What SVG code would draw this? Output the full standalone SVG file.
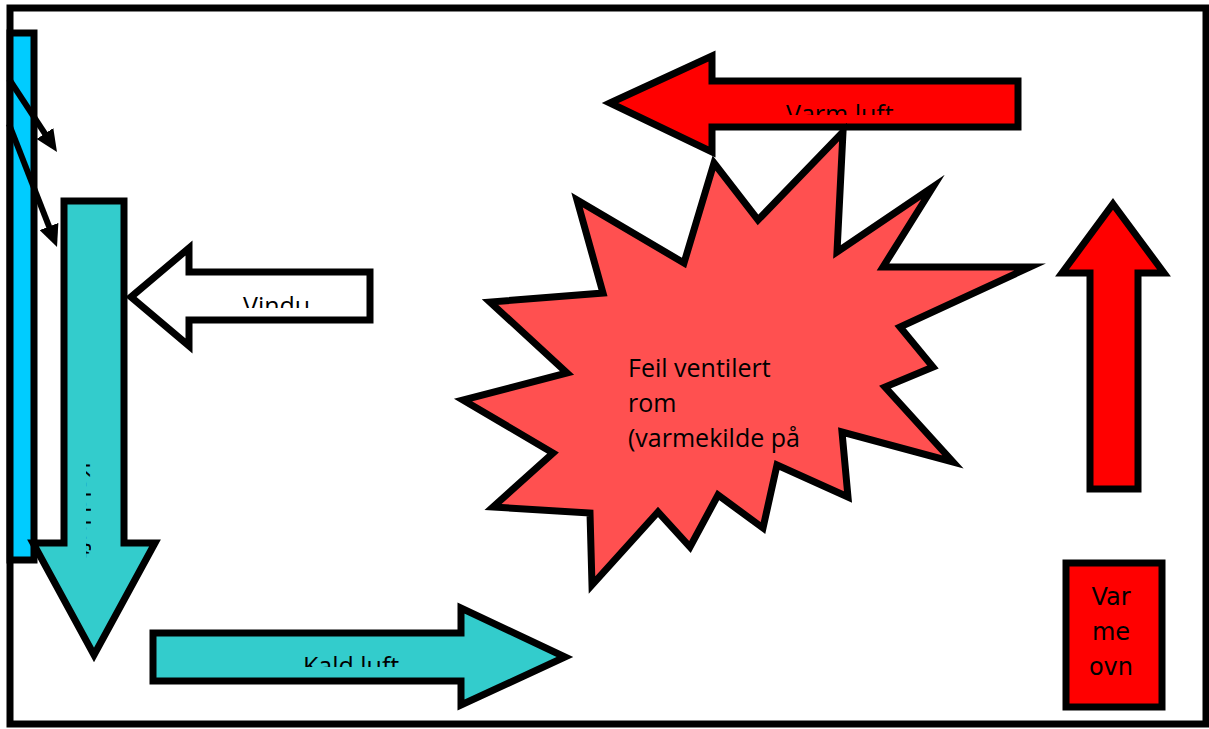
<svg xmlns="http://www.w3.org/2000/svg" width="1209" height="729" viewBox="0 0 1209 729">
<style>
.sh{stroke:#000;stroke-width:7;stroke-linejoin:miter;stroke-miterlimit:10}
.t{font-family:"Open Sans","Liberation Sans",sans-serif;font-size:25px;fill:#000}
.tv{font-family:"DejaVu Sans","Liberation Sans",sans-serif;font-size:24px;fill:#000}
.cn{stroke:#000;stroke-width:6;fill:none}
</style>
<defs>
<marker id="ah" viewBox="0 0 22 20" refX="12" refY="10" markerWidth="22" markerHeight="20" markerUnits="userSpaceOnUse" orient="auto">
<path d="M0,0 L22,10 L0,20 z" fill="#000"/>
</marker>
<clipPath id="cVindu"><rect x="200" y="280" width="170" height="28"/></clipPath>
<clipPath id="cKald"><rect x="160" y="640" width="300" height="27"/></clipPath>
<clipPath id="cVarm"><rect x="720" y="88" width="295" height="27"/></clipPath>
<clipPath id="cVert"><rect x="86" y="455" width="5" height="105"/></clipPath>
</defs>
<rect width="1209" height="729" fill="#fff"/>
<rect id="frame" x="10" y="8" width="1196" height="716" fill="none" class="sh"/>

<g id="window">
<rect x="10" y="33" width="24" height="527" fill="#00CCFF" class="sh"/>
</g>

<g id="cold-down">
<polygon points="64,201 124,201 124,543 155,543 94,655 33,543 64,543" fill="#33CCCC" class="sh"/>
<g clip-path="url(#cVert)">
<text class="t" transform="translate(72,462) rotate(90)">Kald luft</text>
</g>
</g>

<g id="vindu">
<polygon points="131,297 189,248 189,272 370,272 370,320 189,320 189,346" fill="#fff" class="sh"/>
<text class="t" x="243" y="315" clip-path="url(#cVindu)">Vindu</text>
</g>

<g id="kald-luft">
<polygon points="153,633 461,633 461,608 565,657 461,705 461,681 153,681" fill="#33CCCC" class="sh"/>
<text class="t" x="303" y="675" clip-path="url(#cKald)">Kald luft</text>
</g>

<g id="varm-luft">
<polygon points="610,103 712,56 712,81 1018,81 1018,127 712,127 712,152" fill="#FF0000" class="sh"/>
<text class="t" x="786" y="123" clip-path="url(#cVarm)">Varm luft</text>
</g>

<g id="rom">
<polygon points="714,163 758,220 843,132 837,252 933,187 883,267 1030,267 900,327 933,367 885,387 953,462 842,432 848,497 777,465 763,528 718,495 690,547 658,512 592,585 590,513 493,507 553,453 463,400 567,373 490,302 603,293 577,200 684,263" fill="#FF5050" class="sh"/>
<text class="t" x="628" y="377">Feil ventilert</text>
<text class="t" x="628" y="412">rom</text>
<text class="t" x="628" y="447">(varmekilde på</text>
</g>

<g id="varm-opp">
<polygon points="1113,204 1164,273 1138,273 1138,489 1090,489 1090,273 1062,273" fill="#FF0000" class="sh"/>
</g>

<g id="ovn">
<rect x="1066" y="563" width="96" height="144" fill="#FF0000" class="sh"/>
<text class="tv" x="1111" y="605" text-anchor="middle">Var</text>
<text class="tv" x="1111" y="640" text-anchor="middle">me</text>
<text class="tv" x="1111" y="675" text-anchor="middle">ovn</text>
</g>

<g id="connectors">
<line class="cn" x1="9" y1="79" x2="51.5" y2="143.6" marker-end="url(#ah)"/>
<line class="cn" x1="9" y1="124" x2="53.4" y2="237.7" marker-end="url(#ah)"/>
</g>
</svg>
